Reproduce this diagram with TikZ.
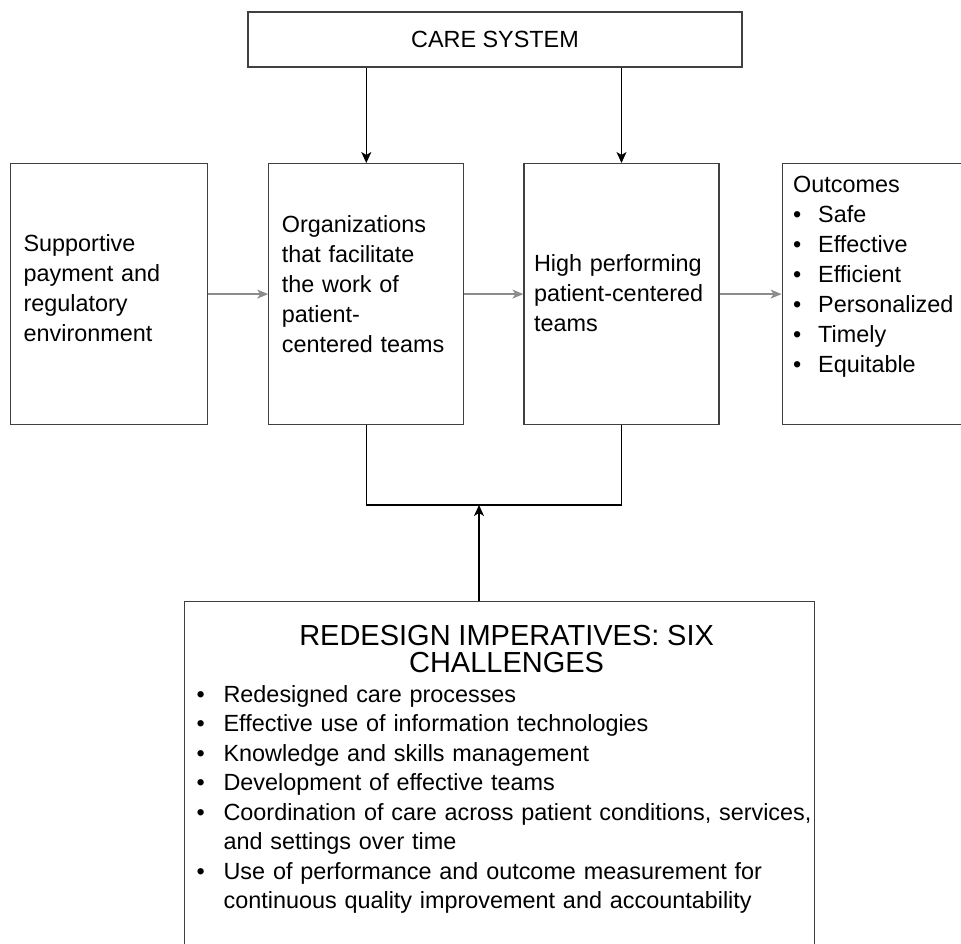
\documentclass[tikz,border=0pt]{standalone}
\usepackage{fontspec}
\setmainfont{Liberation Sans}
\usepackage{tikz}
\usetikzlibrary{positioning, arrows.meta}
\newcommand{\boxfont}{\fontsize{23.4}{30}\selectfont}
\newcommand{\titlefont}{\fontsize{29}{27}\selectfont}
\newcommand{\listfont}{\fontsize{23.4}{29.5}\selectfont}
\newcommand{\bitem}[2]{\mbox{\makebox[#1][l]{\textbullet}#2}}
\tikzstyle{banner} = [rectangle, draw=black!75, line width=1.2pt, minimum width=494pt, minimum height=55pt, font=\boxfont]
\tikzstyle{panel} = [rectangle, draw=black!75, line width=1.2pt, inner ysep=0pt, align=left, anchor=north west, font=\boxfont]
\tikzstyle{arrow} = [-{Stealth[length=11pt,width=10pt,inset=3pt]}, line width=1.3pt]
\tikzstyle{flow} = [-{Stealth[length=11pt,width=9pt,inset=3pt]}, line width=1.3pt, draw=black!45]

\begin{document}
\begin{tikzpicture}[x=1pt, y=-1pt, node distance=60pt]
\useasboundingbox (0,0) rectangle (961,943);

\node[banner] (care) at (495,39.5) {CARE SYSTEM};

\node[panel, text width=171pt, inner xsep=13pt, text height=88pt, text depth=173pt] (support) at (10,163) {Supportive\\payment and\\regulatory\\environment};
\node[panel, text width=169pt, inner xsep=13pt, text height=69pt, text depth=192pt, right=60pt of support] (orgs) {Organizations\\that facilitate\\the work of\\patient-\\centered teams};
\node[panel, text width=175pt, inner xsep=10pt, text height=108pt, text depth=153pt, right=59pt of orgs] (teams) {High performing\\patient-centered\\teams};
\node[panel, text width=177pt, inner xsep=11pt, text height=29pt, text depth=232pt, right=62pt of teams] (outcomes) {Outcomes\\\bitem{25pt}{Safe}\\\bitem{25pt}{Effective}\\\bitem{25pt}{Efficient}\\\bitem{25pt}{Personalized}\\\bitem{25pt}{Timely}\\\bitem{25pt}{Equitable}};

\node[panel, font=\listfont, text width=606pt, inner xsep=12pt, text height=44pt, text depth=310pt] (redesign) at (184,601) {%
{\titlefont\makebox[\linewidth]{\hspace{14pt}REDESIGN IMPERATIVES: SIX}\par
\makebox[\linewidth]{\hspace{14pt}CHALLENGES}\par}
\bitem{27pt}{Redesigned care processes}\par
\bitem{27pt}{Effective use of information technologies}\par
\bitem{27pt}{Knowledge and skills management}\par
\bitem{27pt}{Development of effective teams}\par
\bitem{27pt}{Coordination of care across patient conditions, services,}\par
\mbox{\hspace*{27pt}and settings over time}\par
\bitem{27pt}{Use of performance and outcome measurement for}\par
\mbox{\hspace*{27pt}continuous quality improvement and accountability}\par};

% top-down influence of the care system
\draw[arrow] (care.south -| orgs.north) -- (orgs.north);
\draw[arrow] (care.south -| teams.north) -- (teams.north);

% left to right flow
\draw[flow] (support) -- (orgs);
\draw[flow] (orgs) -- (teams);
\draw[flow] (teams) -- (outcomes);

% redesign imperatives feed both middle boxes
\coordinate (merge) at (479,505);
\draw[line width=1.3pt] (orgs.south) |- (merge) -| (teams.south);
\draw[arrow] (redesign.north -| merge) -- (merge);

\end{tikzpicture}
\end{document}
